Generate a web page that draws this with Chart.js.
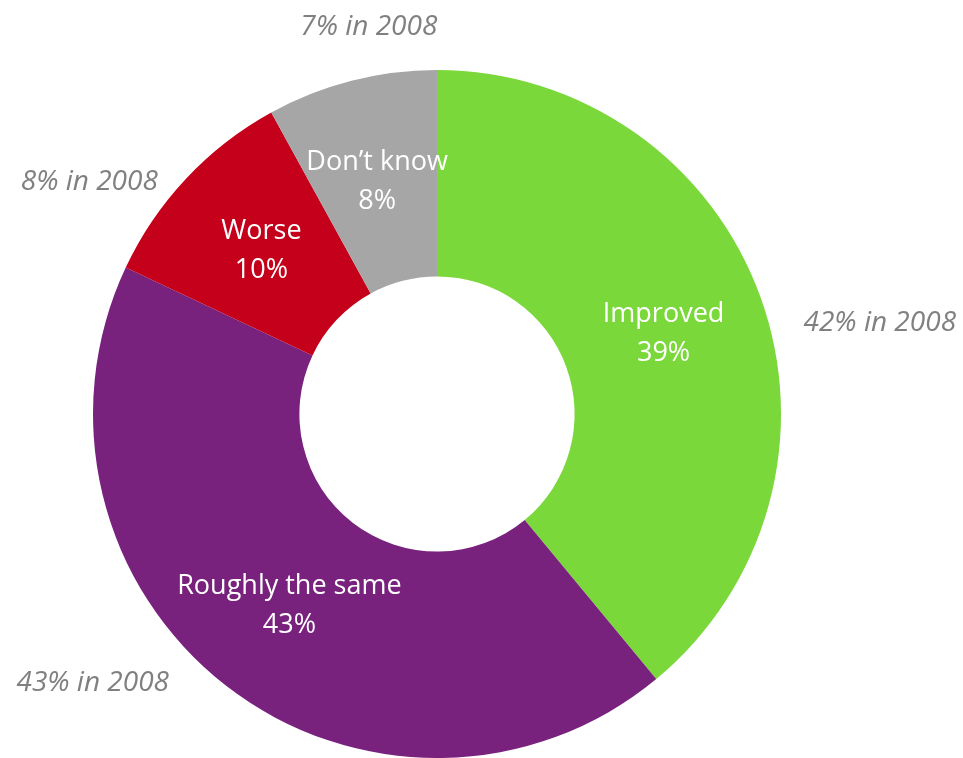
<!doctype html>
<html lang="en">

<head>
  <meta charset="utf-8">
  <title>Doughnut</title>
  <style>
    * {
      margin: 0;
      padding: 0;
    }

    body {
      background: white;
    }

    .chartBox {
      width: 963px;
      height: 758px;
    }
  </style>
</head>

<body>
  <div class="chartBox">
    <canvas id="myChart"></canvas>
  </div>
  <script src="https://cdn.jsdelivr.net/npm/chart.js/dist/chart.umd.min.js"></script>
  <script>
    // setup
    const categories = ['Improved', 'Roughly the same', 'Worse', 'Don\u2019t know'];
    const shares = [39, 43, 10, 8];
    const shares2008 = [42, 43, 8, 7];
    const colors = ['#7AD83A', '#78217D', '#C5001A', '#A6A6A6'];

    const data = {
      labels: categories,
      datasets: [{
        data: shares,
        backgroundColor: colors,
        borderWidth: 0
      }]
    };

    // labels inside the slices and the 2008 figures outside
    const sliceLabels = {
      id: 'sliceLabels',
      afterDatasetsDraw(chart, args, options) {
        const { ctx } = chart;
        const arcs = chart.getDatasetMeta(0).data;
        ctx.save();
        ctx.textAlign = 'center';
        ctx.textBaseline = 'middle';

        arcs.forEach((arc, i) => {
          const pos = arc.tooltipPosition();
          ctx.fillStyle = 'white';
          ctx.font = '27px "Open Sans"';
          ctx.fillText(categories[i], pos.x, pos.y - 18);
          ctx.fillText(shares[i] + '%', pos.x, pos.y + 21);

          // previous year, placed just outside the ring
          const nudge = options.outside[i];
          const mid = (arc.startAngle + arc.endAngle) / 2 + nudge.turn * Math.PI / 180;
          const r = arc.outerRadius * nudge.r;
          ctx.fillStyle = '#808080';
          ctx.font = 'italic 28px "Open Sans"';
          ctx.fillText(shares2008[i] + '% in 2008', arc.x + Math.cos(mid) * r, arc.y + Math.sin(mid) * r);
        });
        ctx.restore();
      }
    };

    // config
    const config = {
      type: 'doughnut',
      data,
      options: {
        responsive: true,
        maintainAspectRatio: false,
        animation: false,
        cutout: '40%',
        layout: {
          padding: { top: 70, bottom: 0, left: 93, right: 182 }
        },
        plugins: {
          legend: { display: false },
          tooltip: { enabled: false },
          sliceLabels: {
            outside: [
              { turn: 8.2, r: 1.314 },
              { turn: 14.2, r: 1.27 },
              { turn: -9.5, r: 1.215 },
              { turn: 4.4, r: 1.142 }
            ]
          }
        }
      },
      plugins: [sliceLabels]
    };

    // render init block
    const myChart = new Chart(
      document.getElementById('myChart'),
      config
    );
  </script>

</body>

</html>
